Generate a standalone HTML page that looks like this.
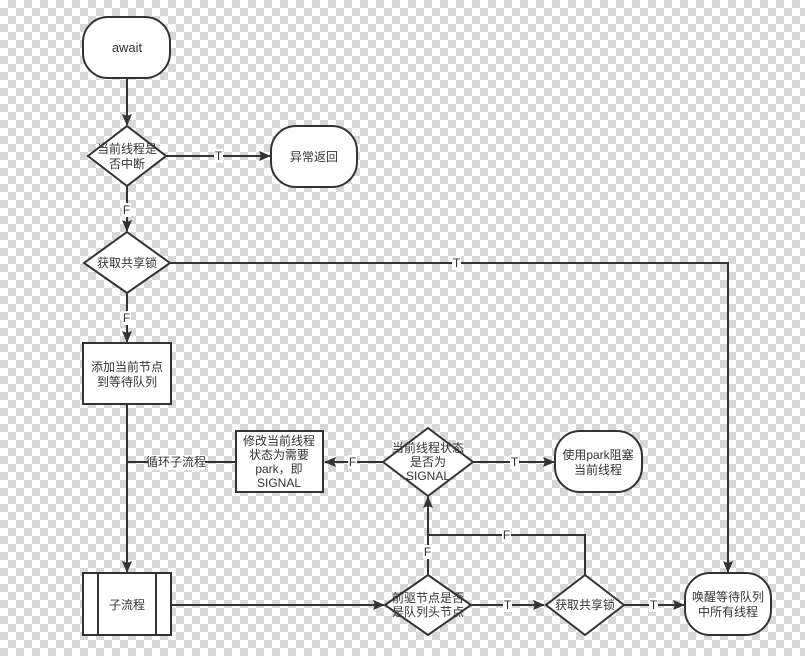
<!DOCTYPE html>
<html><head><meta charset="utf-8"><style>
html,body{margin:0;padding:0;width:805px;height:656px;overflow:hidden}
svg{display:block}
text{font-family:"Liberation Sans","Noto Sans CJK SC",sans-serif;font-size:12px;fill:#333;text-anchor:middle}
.s{fill:#fff;stroke:#333;stroke-width:2}
.l{fill:none;stroke:#333;stroke-width:2}
.lb{fill:#fff}
</style></head><body>
<svg width="805" height="656" viewBox="0 0 805 656" xmlns="http://www.w3.org/2000/svg">
<defs>
<pattern id="ck" width="16" height="16" patternUnits="userSpaceOnUse">
<rect width="16" height="16" fill="#fff"/>
<rect x="8" y="0" width="8" height="8" fill="#d8d8d8"/>
<rect x="0" y="8" width="8" height="8" fill="#d8d8d8"/>
</pattern>
<marker id="a" markerWidth="12" markerHeight="10" refX="11" refY="5" orient="auto" markerUnits="userSpaceOnUse">
<path d="M0,0 L12,5 L0,10 L2,5 Z" fill="#333"/>
</marker>
</defs>
<rect width="805" height="656" fill="url(#ck)"/>

<path class="l" d="M127,78 V125" marker-end="url(#a)"/>
<path class="l" d="M166,156 H270" marker-end="url(#a)"/>
<path class="l" d="M127,186 V231" marker-end="url(#a)"/>
<path class="l" d="M170,263 H728 V572" marker-end="url(#a)"/>
<path class="l" d="M127,293 V342" marker-end="url(#a)"/>
<path class="l" d="M127,404 V572" marker-end="url(#a)"/>
<path class="l" d="M127,462 H236"/>
<path class="l" d="M383,462 H325" marker-end="url(#a)"/>
<path class="l" d="M473,462 H554" marker-end="url(#a)"/>
<path class="l" d="M171,605 H384" marker-end="url(#a)"/>
<path class="l" d="M428,575 V497" marker-end="url(#a)"/>
<path class="l" d="M428,535 H585 V575"/>
<path class="l" d="M471,605 H544" marker-end="url(#a)"/>
<path class="l" d="M624,605 H684" marker-end="url(#a)"/>

<rect class="lb" x="214" y="149" width="9" height="14"/><text x="218.5" y="160">T</text>
<rect class="lb" x="122" y="203" width="9" height="14"/><text x="126.5" y="214">F</text>
<rect class="lb" x="452" y="256" width="9" height="14"/><text x="456.5" y="267">T</text>
<rect class="lb" x="122" y="311" width="9" height="14"/><text x="126.5" y="322">F</text>
<rect class="lb" x="148" y="455" width="57" height="15"/><text x="176" y="466">循环子流程</text>
<rect class="lb" x="348" y="455" width="9" height="14"/><text x="352.5" y="466">F</text>
<rect class="lb" x="510" y="455" width="9" height="14"/><text x="514.5" y="466">T</text>
<rect class="lb" x="423" y="545" width="9" height="14"/><text x="427.5" y="556">F</text>
<rect class="lb" x="502" y="528" width="9" height="14"/><text x="506.5" y="539">F</text>
<rect class="lb" x="503" y="598" width="9" height="14"/><text x="507.5" y="609">T</text>
<rect class="lb" x="649" y="598" width="9" height="14"/><text x="653.5" y="609">T</text>

<rect class="s" x="83" y="17" width="87" height="61" rx="25"/>
<text x="127" y="52" style="font-size:13px">await</text>

<path class="s" d="M127,126 L166,156 L127,186 L88,156 Z"/>
<text x="127" y="153">当前线程是</text><text x="127" y="168">否中断</text>

<rect class="s" x="271" y="126" width="86" height="61" rx="25"/>
<text x="314" y="161">异常返回</text>

<path class="s" d="M127,232 L170,263 L127,293 L84,263 Z"/>
<text x="127" y="267">获取共享锁</text>

<rect class="s" x="83" y="343" width="88" height="61"/>
<text x="127" y="371">添加当前节点</text><text x="127" y="386">到等待队列</text>

<rect class="s" x="236" y="431" width="87" height="61"/>
<text x="279" y="445">修改当前线程</text><text x="279" y="459">状态为需要</text>
<text x="279" y="473">park，即</text><text x="279" y="487">SIGNAL</text>

<path class="s" d="M428,428 L473,462 L428,496 L383,462 Z"/>
<text x="428" y="452">当前线程状态</text><text x="428" y="466">是否为</text><text x="428" y="480">SIGNAL</text>

<rect class="s" x="555" y="431" width="87" height="61" rx="25"/>
<text x="598" y="459">使用park阻塞</text><text x="598" y="474">当前线程</text>

<rect class="s" x="83" y="573" width="88" height="62"/>
<path class="l" d="M98,573 V635 M156,573 V635"/>
<text x="127" y="609">子流程</text>

<path class="s" d="M428,575 L471,605 L428,635 L385,605 Z"/>
<text x="428" y="602">前驱节点是否</text><text x="428" y="616">是队列头节点</text>

<path class="s" d="M585,575 L624,605 L585,635 L546,605 Z"/>
<text x="585" y="609">获取共享锁</text>

<rect class="s" x="685" y="573" width="86" height="62" rx="25"/>
<text x="728" y="601">唤醒等待队列</text><text x="728" y="616">中所有线程</text>
</svg>
</body></html>
